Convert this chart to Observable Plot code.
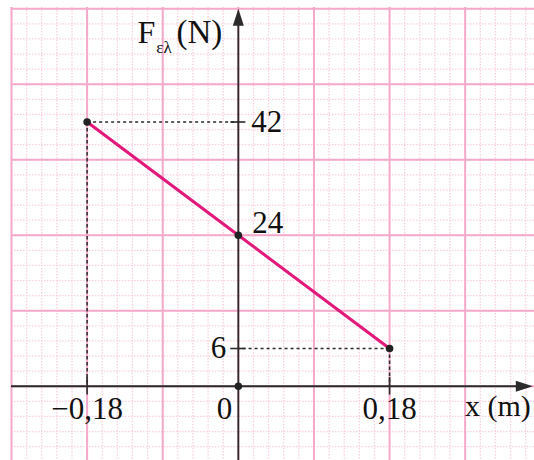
<!DOCTYPE html>
<html><head><meta charset="utf-8">
<script src="https://cdn.jsdelivr.net/npm/d3@7"></script>
<script src="https://cdn.jsdelivr.net/npm/@observablehq/plot@0.6"></script>
<style>body{margin:0;background:#fff}#chart svg{display:block}</style>
</head><body><div id="chart"></div>
<script>
// Data
const xValues = [-0.18, 0, 0.18];          // x (m)
const forceValues = [42, 24, 6];           // F_el (N)
const xTickValues = [-0.18, 0, 0.18];
const xTickLabels = ["\u22120,18", "0", "0,18"];
const yTickValues = [42, 24, 6];
const yTickLabels = ["42", "24", "6"];
const xDomain = [-0.27, 0.3525];
const yDomain = [-11.8, 60.2];
const xMajorStep = 0.09, xMinorStep = 0.018;
const yMajorStep = 12, yMinorStep = 2.4;

const points = xValues.map((x, i) => ({x, y: forceValues[i]}));
const inX = v => v >= xDomain[0] - 1e-9 && v <= xDomain[1];
const inY = v => v >= yDomain[0] && v <= yDomain[1] + 1e-9;
const xMinor = d3.range(-20, 21).map(i => +(i * xMinorStep).toFixed(4)).filter(inX);
const xMajor = d3.range(-5, 6).map(i => +(i * xMajorStep).toFixed(4)).filter(inX);
const yMinor = d3.range(-5, 26).map(i => +(i * yMinorStep).toFixed(4)).filter(inY);
const yMajor = d3.range(-1, 6).map(i => i * yMajorStep).filter(inY);

const ends = [points[0], points[2]];
const hDots = ends.map(p => ({x1: p.x, x2: 0, y1: p.y, y2: p.y}));
const vDots = ends.map(p => ({x1: p.x, x2: p.x, y1: p.y, y2: 0}));

const arrowHead = {draw(ctx) { ctx.moveTo(0, 0); ctx.lineTo(5.5, 17); ctx.lineTo(-5.5, 17); ctx.closePath(); }};
const serif = "Liberation Serif, Times New Roman, serif";
const ink = "#2b2b2b";

const yLabelData = yTickValues.map((v, i) => ({y: v, label: yTickLabels[i]}));
const xLabelData = xTickValues.map((v, i) => ({x: v, label: xTickLabels[i]}));

const plot = Plot.plot({
  width: 534, height: 460,
  marginLeft: 11, marginRight: 0, marginTop: 7, marginBottom: 0,
  x: {domain: xDomain, axis: null},
  y: {domain: yDomain, axis: null},
  style: {background: "#fff", overflow: "visible"},
  marks: [
    Plot.ruleX(xMinor, {stroke: "#f9cfe1", strokeWidth: 1.3, strokeDasharray: "1.5,1.5"}),
    Plot.ruleY(yMinor, {stroke: "#f9cfe1", strokeWidth: 1.3, strokeDasharray: "1.5,1.5"}),
    Plot.ruleX(xMajor, {stroke: "#f4a9ca", strokeWidth: 2}),
    Plot.ruleY(yMajor, {stroke: "#f4a9ca", strokeWidth: 2}),
    Plot.link(hDots, {x1: "x1", x2: "x2", y1: "y1", y2: "y2", stroke: ink, strokeWidth: 1.4, strokeDasharray: "3,3"}),
    Plot.link(vDots, {x1: "x1", x2: "x2", y1: "y1", y2: "y2", stroke: ink, strokeWidth: 1.5, strokeDasharray: "3.5,2.5"}),
    // axes
    Plot.ruleY([0], {x1: xDomain[0], x2: 0.345, stroke: ink, strokeWidth: 1.8}),
    Plot.ruleX([0], {y1: yDomain[0], y2: 58, stroke: ink, strokeWidth: 1.8}),
    Plot.dot([{x: 0, y: 60}], {x: "x", y: "y", symbol: arrowHead, fill: ink, stroke: null}),
    Plot.dot([{x: 0.3505, y: 0}], {x: "x", y: "y", symbol: arrowHead, rotate: 90, fill: ink, stroke: null}),
    // ticks
    Plot.ruleY([forceValues[0], forceValues[2]], {x1: -0.009, x2: 0.009, stroke: ink, strokeWidth: 1.6}),
    Plot.ruleX([xValues[0], xValues[2]], {y1: -1.4, y2: 1.4, stroke: ink, strokeWidth: 1.6}),
    // data line
    Plot.line(points, {x: "x", y: "y", stroke: "#e2187b", strokeWidth: 3}),
    Plot.dot([...points, {x: 0, y: 0}], {x: "x", y: "y", r: 3.8, fill: "#222", stroke: null}),
    // y labels
    Plot.text([yLabelData[0]], {x: 0, y: "y", text: "label", textAnchor: "start", dx: 13, fontFamily: serif, fontSize: 31, fill: "#111"}),
    Plot.text([yLabelData[1]], {x: 0, y: "y", text: "label", textAnchor: "start", lineAnchor: "bottom", dx: 14, dy: -2, fontFamily: serif, fontSize: 31, fill: "#111"}),
    Plot.text([yLabelData[2]], {x: 0, y: "y", text: "label", textAnchor: "end", dx: -12, fontFamily: serif, fontSize: 31, fill: "#111"}),
    // x labels
    Plot.text([xLabelData[0], xLabelData[2]], {x: "x", y: 0, text: "label", lineAnchor: "top", dy: 11, fontFamily: serif, fontSize: 31, fill: "#111"}),
    Plot.text([xLabelData[1]], {x: "x", y: 0, text: "label", textAnchor: "end", lineAnchor: "top", dx: -6, dy: 11, fontFamily: serif, fontSize: 31, fill: "#111"}),
    Plot.text(["x (m)"], {x: 0.3505, y: 0, text: d => d, textAnchor: "end", lineAnchor: "bottom", dx: -2, dy: 30, fontFamily: serif, fontSize: 30, fill: "#111"}),
    // y axis title F_el (N)
    Plot.text(["F"], {x: 0, y: 60, text: d => d, textAnchor: "end", lineAnchor: "bottom", dx: -83, dy: 34, fontFamily: serif, fontSize: 32, fill: "#111"}),
    Plot.text(["\u03b5\u03bb"], {x: 0, y: 60, text: d => d, textAnchor: "start", lineAnchor: "bottom", dx: -82, dy: 44, fontFamily: serif, fontSize: 17, fill: "#111"}),
    Plot.text(["(N)"], {x: 0, y: 60, text: d => d, textAnchor: "end", lineAnchor: "bottom", dx: -16, dy: 34, fontFamily: serif, fontSize: 33, fill: "#111"})
  ]
});
document.getElementById("chart").appendChild(plot);
</script>
</body></html>
